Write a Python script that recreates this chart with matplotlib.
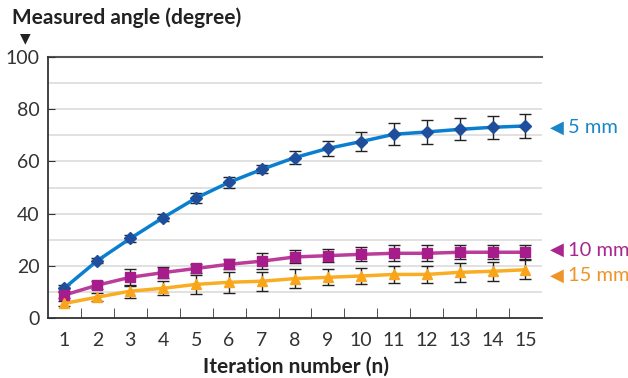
import numpy as np
import matplotlib.pyplot as plt

plt.rcParams['font.family'] = ['Lato', 'DejaVu Sans']

iterations = list(range(1, 16))

angle_5mm = [11.5, 22, 30.5, 38.5, 46, 52, 57, 61.5, 65, 67.6, 70.4, 71.3, 72.3, 73.1, 73.6]
err_5mm = [1.0, 1.0, 1.5, 1.5, 1.8, 2.0, 1.5, 2.5, 2.9, 3.5, 4.2, 4.6, 4.2, 4.5, 4.5]

angle_10mm = [8.8, 12.6, 15.6, 17.4, 19.0, 20.6, 21.8, 23.4, 23.9, 24.4, 24.8, 24.8, 25.2, 25.2, 25.2]
err_10mm = [1.0, 1.5, 3.3, 2.0, 1.7, 2.0, 3.0, 2.5, 2.4, 2.7, 3.0, 3.0, 2.6, 2.6, 2.6]

angle_15mm = [5.6, 8.0, 10.3, 11.4, 12.9, 13.7, 14.1, 15.1, 15.6, 16.1, 16.7, 16.7, 17.5, 17.9, 18.5]
err_15mm = [1.0, 1.5, 2.5, 2.7, 3.7, 4.0, 3.6, 3.6, 3.1, 3.1, 3.2, 3.2, 3.7, 3.7, 3.7]

series = [
    ('5 mm', angle_5mm, err_5mm, 'D', '#0a7fcf', '#1f4e9c', '#1a86c8', 73.0),
    ('10 mm', angle_10mm, err_10mm, 's', '#bb3d9a', '#a61c8a', '#a8268e', 26.0),
    ('15 mm', angle_15mm, err_15mm, '^', '#f9ad22', '#f9a51c', '#ef9428', 16.3),
]

fig = plt.figure(figsize=(6.28, 3.78), dpi=100)
ax = fig.add_axes([0.0764, 0.1587, 0.7866, 0.6903])

# light grid every 10 degrees
for v in range(10, 100, 10):
    ax.axhline(v, color='#dcdcdc', lw=1.2, zorder=0)
ax.axhline(100, color='#555555', lw=1.5, zorder=0, clip_on=False)

for name, y, err, mk, lc, mc, tc, ly in series:
    ax.errorbar(iterations, y, yerr=err, fmt='none', ecolor='#222222',
                elinewidth=1.0, capsize=4, capthick=1.0, zorder=2)
    ax.plot(iterations, y, color=lc, lw=2.5, zorder=3)
    ms = 7.5 if mk == '^' else 6.5
    ax.plot(iterations, y, ls='none', marker=mk, ms=ms, color=mc, zorder=4)
    ax.text(15.75, ly, '\u25C0', color=tc, fontsize=13, va='center', ha='left',
            family=['DejaVu Sans'], clip_on=False)
    ax.text(16.3, ly, name, color=tc, fontsize=14.5, va='center', ha='left',
            clip_on=False)

ax.set_xlim(0.5, 15.5)
ax.set_ylim(0, 100)
ax.set_xticks(iterations)
ax.set_xticks(np.arange(1.5, 15, 1), minor=True)
ax.tick_params(axis='x', which='major', length=0, pad=10, labelsize=14, colors='#333333')
ax.tick_params(axis='x', which='minor', length=7, direction='in', color='#333333')
ax.set_yticks(range(0, 101, 20))
ax.tick_params(axis='y', length=5, direction='in', labelsize=14, colors='#333333', pad=6)

for side in ['top', 'right']:
    ax.spines[side].set_visible(False)
ax.spines['left'].set_color('#333333')
ax.spines['bottom'].set_color('#333333')
ax.spines['left'].set_linewidth(1.3)
ax.spines['bottom'].set_linewidth(1.3)

fig.text(0.472, 0.03, 'Iteration number (n)', fontsize=15, fontweight='bold',
         color='#222222', va='center', ha='center')
fig.text(0.019, 0.952, 'Measured angle (degree)', fontsize=15, fontweight='bold',
         color='#222222', va='center', ha='left')
fig.text(0.040, 0.900, '\u25BC', fontsize=10, color='#222222', va='center', ha='center',
         family=['DejaVu Sans'])

fig.savefig('out.png', dpi=100)
